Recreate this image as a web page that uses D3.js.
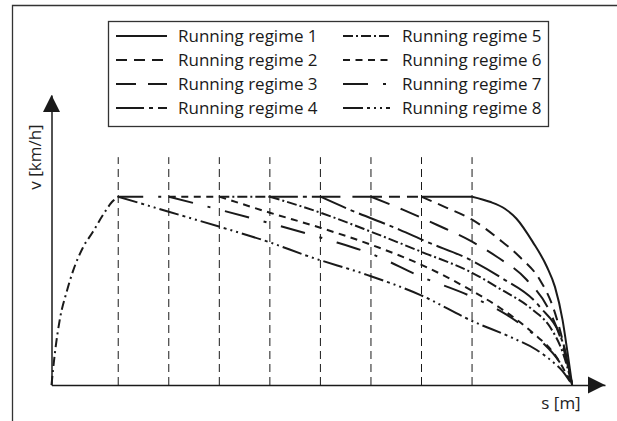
<!DOCTYPE html>
<html>
<head>
<meta charset="utf-8">
<script src="https://cdn.jsdelivr.net/npm/d3@7"></script>
<style>
body{margin:0;background:#fff;}
svg{display:block;font-family:"Open Sans",sans-serif;}
</style>
</head>
<body>
<svg id="chart"></svg>
<script>
const w = 617, h = 421;

const regimes = ["Running regime 1","Running regime 2","Running regime 3","Running regime 4",
                 "Running regime 5","Running regime 6","Running regime 7","Running regime 8"];
// switching points (s) where coasting begins
const gridS = [132,232,332,432,532,632,732,832];
const vCruise = 100;
// acceleration phase, shared by all regimes
const accelS = [0,7,17,30,42,62,82,102,120,132];
const accelV = [0,17.6,35.6,49.5,60.1,72.9,81.4,90.4,97.3,100];
// where each regime's cruising line starts being drawn
const cruiseFrom = [732,632,532,432,332,232,132,132];
// coasting / braking curves
const coastS = [
  [832,867,897,920,952,980,996,1011,1021,1030],
  [732,782,832,887,926,966,992,1011,1030],
  [632,695,762,832,881,940,986,1011,1030],
  [532,590,689,742,832,887,966,1011,1030],
  [432,532,632,732,832,887,952,986,1011,1030],
  [332,432,532,632,732,832,887,952,996,1030],
  [232,332,428,547,632,732,832,901,966,1005,1030],
  [132,232,333,428,511,624,729,832,912,960,992,1011,1030]
];
const coastV = [
  [100,97.3,93.6,88.3,76,62.8,52.1,34.6,17,0],
  [100,94.1,87.8,77.1,68.1,55.9,41.5,23.9,0],
  [100,93.1,85.1,76.1,68.1,55.9,38.8,21.3,0],
  [100,93.1,82.4,76.1,66,57.4,41.5,22.9,0],
  [100,91.5,81.4,70.7,59.6,51.1,39.9,30.9,17.6,0],
  [100,91.5,83.5,74.5,63.8,50,41,27.7,16,0],
  [100,93.1,86.2,77.1,69.7,57.4,46.8,37.2,23.9,12.2,0],
  [100,92,84,76.1,68.1,58.5,47.9,34,25,18.6,12.2,7.4,0]
];
const dashes = ["none","11,7","20,12","28,5,4,5","10,3,2,3","7,5.5","25,15,3,15","20,4,3,4,2,4,2,4"];

const svg = d3.select("#chart").attr("width", w).attr("height", h);
const ink = "#1a1a1a";

const x = d3.scaleLinear().domain([0, 1095]).range([51.5, 605]);
const y = d3.scaleLinear().domain([0, 154]).range([385, 95]);

// outer frame (left and top edges)
svg.append("path").attr("d", `M12.5,${h} V5.5 H${w}`)
  .attr("fill","none").attr("stroke","#333").attr("stroke-width",1.3);

// vertical dashed guides
svg.append("g").selectAll("line").data(gridS).join("line")
  .attr("x1", d => x(d)).attr("x2", d => x(d))
  .attr("y1", y(0)).attr("y2", y(121))
  .attr("stroke", ink).attr("stroke-width", 1).attr("stroke-dasharray", "8,5");

const curve = d3.line().x(d => x(d[0])).y(d => y(d[1])).curve(d3.curveMonotoneX);
const straight = d3.line().x(d => x(d[0])).y(d => y(d[1]));

const g = svg.append("g").attr("fill","none").attr("stroke",ink).attr("stroke-width",2);

g.append("path").attr("d", curve(accelS.map((s,i) => [s, accelV[i]])))
  .attr("stroke-dasharray", "9,4,2,4");

regimes.forEach((name, i) => {
  const pts = coastS[i].map((s,j) => [s, coastV[i][j]]);
  if (cruiseFrom[i] < coastS[i][0]) {
    g.append("path").attr("d", straight([[cruiseFrom[i], vCruise],[coastS[i][0], vCruise]]))
      .attr("stroke-dasharray", dashes[i]);
  }
  g.append("path").attr("d", curve(pts)).attr("stroke-dasharray", dashes[i]);
});

// axes without ticks, with arrow heads
svg.append("g").attr("transform", `translate(0,${y(0)})`)
  .call(d3.axisBottom(x).tickValues([]).tickSizeOuter(0))
  .select(".domain").attr("stroke", ink).attr("stroke-width", 1.5);
svg.append("g").attr("transform", `translate(${x(0)},0)`)
  .call(d3.axisLeft(y).tickValues([]).tickSizeOuter(0))
  .select(".domain").attr("stroke", ink).attr("stroke-width", 1.5);

const xe = x.range()[1], ye = y.range()[1];
svg.append("path").attr("d", `M${xe},${y(0)} l-17,-8.5 v17 z`).attr("fill", ink);
svg.append("path").attr("d", `M${x(0)},${ye} l-8.5,17 h17 z`).attr("fill", ink);

svg.append("text").attr("x", 561).attr("y", 409).attr("text-anchor","middle")
  .attr("font-size", 17).attr("fill", "#222").text("s [m]");
svg.append("text").attr("transform", "translate(41,157) rotate(-90)").attr("text-anchor","middle")
  .attr("font-size", 17).attr("fill", "#222").text("v [km/h]");

// legend
const lg = svg.append("g");
lg.append("rect").attr("x", 108.5).attr("y", 21.5).attr("width", 440).attr("height", 105)
  .attr("fill", "#fff").attr("stroke", "#333").attr("stroke-width", 1.3);
const colLine = [[116,167],[343,390]];
const colText = [178, 402];
regimes.forEach((name, i) => {
  const c = Math.floor(i / 4), r = i % 4;
  const yy = 36 + r * 24;
  lg.append("line").attr("x1", colLine[c][0]).attr("x2", colLine[c][1])
    .attr("y1", yy).attr("y2", yy)
    .attr("stroke", ink).attr("stroke-width", 2.2).attr("stroke-dasharray", dashes[i]);
  lg.append("text").attr("x", colText[c]).attr("y", yy).attr("dy", "0.35em")
    .attr("font-size", 17).attr("fill", "#1a1a1a").text(name);
});
</script>
</body>
</html>
